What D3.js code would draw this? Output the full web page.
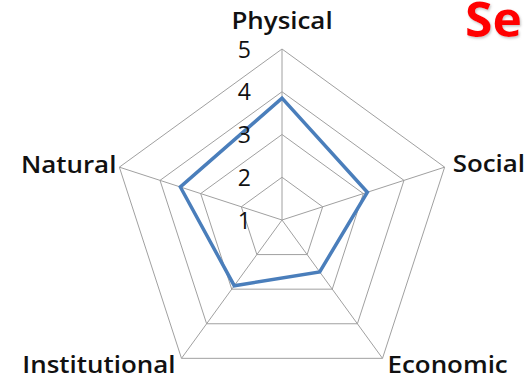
<!DOCTYPE html>
<html>
<head>
<meta charset="utf-8">
<script src="https://cdn.jsdelivr.net/npm/d3@7"></script>
<style>
  html, body { margin: 0; padding: 0; background: #fff; }
  svg { display: block; }
</style>
</head>
<body>
<svg id="chart" width="529" height="379"></svg>
<script>
const categories = ["Physical", "Social", "Economic", "Institutional", "Natural"];
const values = [3.85, 3.1, 2.5, 2.9, 3.5];
const tickValues = [1, 2, 3, 4, 5];
const titleText = "Se";

const svg = d3.select("#chart");
const cx = 282, cy = 220, R = 171;
const r = d3.scaleLinear().domain([1, 5]).range([0, R]);
const angle = d3.scaleLinear().domain([0, categories.length]).range([0, 2 * Math.PI]);
const pt = (i, v) => [cx + r(v) * Math.sin(angle(i)), cy - r(v) * Math.cos(angle(i))];

const grid = svg.append("g");
tickValues.filter(t => t > 1).forEach(t => {
  grid.append("path")
    .attr("d", d3.line()(categories.map((c, i) => pt(i, t))) + "Z")
    .attr("fill", "none").attr("stroke", "#a0a0a0").attr("stroke-width", 1);
});
categories.forEach((c, i) => {
  const [x, y] = pt(i, 5);
  grid.append("line").attr("x1", cx).attr("y1", cy).attr("x2", x).attr("y2", y)
    .attr("stroke", "#a0a0a0").attr("stroke-width", 1);
});

svg.append("path")
  .attr("d", d3.line()(values.map((v, i) => pt(i, v))) + "Z")
  .attr("fill", "none").attr("stroke", "#4a7ebb").attr("stroke-width", 3.5)
  .attr("stroke-linejoin", "miter");

svg.append("g").selectAll("text").data(tickValues).join("text")
  .attr("x", cx - 31).attr("y", d => cy - r(d))
  .attr("dy", "0.37em")
  .attr("text-anchor", "end")
  .attr("font-family", "'Open Sans', sans-serif")
  .attr("font-size", 23)
  .attr("fill", "#111")
  .text(d => d);

const labelPos = [
  { dx: 0, dy: -20, anchor: "middle" },
  { dx: 8, dy: 5, anchor: "start" },
  { dx: 5, dy: 15, anchor: "start" },
  { dx: -6, dy: 15, anchor: "end" },
  { dx: -3, dy: 6, anchor: "end" }
];
svg.append("g").selectAll("text").data(categories).join("text")
  .attr("transform", (d, i) => {
    const [x, y] = pt(i, 5);
    return `translate(${x + labelPos[i].dx},${y + labelPos[i].dy}) scale(1.08,1)`;
  })
  .attr("text-anchor", (d, i) => labelPos[i].anchor)
  .attr("font-family", "'Open Sans', sans-serif")
  .attr("font-weight", 600)
  .attr("font-size", 24)
  .attr("fill", "#111")
  .text(d => d);

const defs = svg.append("defs");
const f = defs.append("filter").attr("id", "sh").attr("x", "-10%").attr("y", "-10%").attr("width", "120%").attr("height", "130%");
f.append("feDropShadow").attr("dx", 1).attr("dy", 1.5).attr("stdDeviation", 1).attr("flood-color", "#888").attr("flood-opacity", 0.5);
svg.append("text")
  .attr("transform", "translate(465,37) scale(1.04,1)")
  .attr("font-family", "'Open Sans', sans-serif")
  .attr("font-weight", "bold")
  .attr("font-size", 48)
  .attr("fill", "#ff0000")
  .attr("filter", "url(#sh)")
  .text(titleText);
</script>
</body>
</html>
